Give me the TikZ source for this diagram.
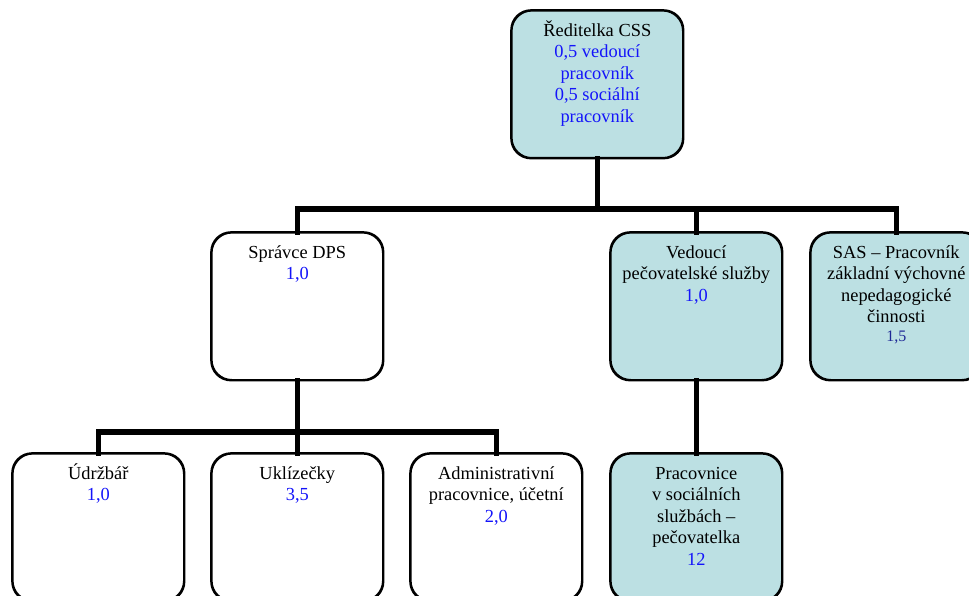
\documentclass[tikz,border=0pt]{standalone}
\usepackage{fontspec}
\setmainfont{Liberation Serif}
\definecolor{boxfill}{RGB}{188,224,227}
\definecolor{txtblue}{RGB}{20,20,250}
\definecolor{txtnavy}{RGB}{30,40,150}
\newcommand{\firstln}{\vphantom{Ř}}
\begin{document}
\begin{tikzpicture}[x=1pt,y=-1pt,
  box/.style={draw=black,line width=1.6pt,rounded corners=20pt,minimum width=171pt,minimum height=147pt,inner sep=0pt,anchor=north west},
  cbox/.style={box,fill=boxfill},
  wbox/.style={box,fill=white},
  lbl/.style={anchor=north,align=center,inner sep=0pt,font=\fontsize{18.4}{21.6}\selectfont},
  conn/.style={line width=5.5pt,line join=miter,line cap=rect}
]
\useasboundingbox (0,0) rectangle (969,596);
\clip (0,0) rectangle (969,596);
% boxes
\node[cbox] (top) at (511,10) {};
\node[wbox] (sp) at (211,232) {};
\node[cbox] (ved) at (610,232) {};
\node[cbox] (sas) at (810,232) {};
\node[wbox] (udr) at (12,453) {};
\node[wbox] (ukl) at (211,453) {};
\node[wbox] (adm) at (410,453) {};
\node[cbox] (pra) at (610,453) {};
% connector coordinates
\coordinate (bar1) at (596,209);
\coordinate (bar2) at (296,432);
% connectors
\draw[conn] (top.south) -- (top.south |- bar1);
\draw[conn] (sp.north) |- (bar1) -| (sas.north);
\draw[conn] (ved.north) -- (ved.north |- bar1);
\draw[conn] (sp.south) -- (sp.south |- bar2);
\draw[conn] (udr.north) |- (bar2) -| (adm.north);
\draw[conn] (ukl.north) -- (ukl.north |- bar2);
\draw[conn] (ved.south) -- (pra.north);
% redraw box outlines on top of connector ends
\foreach \b in {top,sp,ved,sas,udr,ukl,adm,pra}{
  \draw[line width=1.6pt,rounded corners=20pt] (\b.north west) rectangle (\b.south east);
}
% labels
\node[lbl] (ttop) at ([yshift=-10pt]top.north) {\firstln Ředitelka CSS\\\color{txtblue}0,5 vedoucí\\\color{txtblue}pracovník\\\color{txtblue}0,5 sociální\\\color{txtblue}pracovník};
\node[lbl] (tsp) at ([yshift=-10pt]sp.north) {\firstln Správce DPS\\\color{txtblue}1,0};
\node[lbl] (tved) at ([yshift=-10pt]ved.north) {\firstln Vedoucí\\pečovatelské služby\\\color{txtblue}1,0};
\node[lbl] (tsas) at ([yshift=-10pt]sas.north) {\firstln SAS – Pracovník\\základní výchovné\\nepedagogické\\činnosti\\[-3pt]{\fontsize{16}{17}\selectfont\color{txtnavy}1,5}};
\node[lbl] (tudr) at ([yshift=-10pt]udr.north) {\firstln Údržbář\\\color{txtblue}1,0};
\node[lbl] (tukl) at ([yshift=-10pt]ukl.north) {\firstln Uklízečky\\\color{txtblue}3,5};
\node[lbl] (tadm) at ([yshift=-10pt]adm.north) {\firstln Administrativní\\pracovnice, účetní\\\color{txtblue}2,0};
\node[lbl] (tpra) at ([yshift=-10pt]pra.north) {\firstln Pracovnice\\v sociálních\\službách –\\pečovatelka\\\color{txtblue}12};
\end{tikzpicture}
\end{document}
